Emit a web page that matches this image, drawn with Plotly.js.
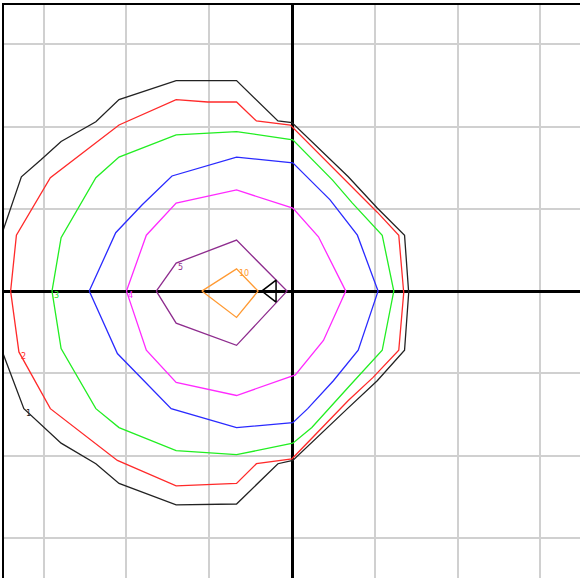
<!DOCTYPE html>
<html>
<head>
<meta charset="utf-8">
<script src="https://cdn.plot.ly/plotly-3.0.1.min.js"></script>
<style>html,body{margin:0;padding:0;background:#fff;}#chart{width:580px;height:578px;}</style>
</head>
<body>
<div id="chart"></div>
<script>
// Contour levels and their vertex coordinates
const levels = ["1", "2", "3", "", "4", "5", "10"];

const c1x = [-3.50,-3.27,-3.03,-2.79,-2.37,-2.09,-1.40,-0.67,-0.17,0.00,0.68,1.03,1.36,1.39,1.41,1.36,1.03,0.67,0.01,-0.17,-0.67,-1.40,-2.09,-2.37,-2.79,-3.24,-3.50,-3.65,-3.65,-3.50];
const c1y = [0.71,1.39,1.60,1.82,2.06,2.33,2.56,2.56,2.07,2.05,1.39,1.01,0.68,0.17,-0.02,-0.72,-1.09,-1.43,-2.06,-2.10,-2.59,-2.60,-2.34,-2.10,-1.85,-1.43,-0.74,-0.34,0.26,0.71];

const c2x = [-3.40,-3.33,-2.92,-2.60,-2.09,-1.40,-1.02,-0.67,-0.43,-0.02,0.70,1.03,1.29,1.34,1.35,1.29,0.98,0.68,0.00,-0.43,-0.67,-1.40,-2.11,-2.92,-3.30,-3.40];
const c2y = [0.00,0.68,1.38,1.63,2.02,2.33,2.30,2.30,2.07,2.02,1.29,0.96,0.68,0.13,-0.02,-0.72,-1.05,-1.33,-2.04,-2.10,-2.34,-2.37,-2.06,-1.43,-0.74,0.00];

const c3x = [-2.90,-2.79,-2.37,-2.09,-1.40,-0.67,0.01,0.49,0.73,1.09,1.23,1.09,0.68,0.24,0.01,-0.67,-1.40,-2.09,-2.37,-2.79,-2.90];
const c3y = [0.00,0.65,1.38,1.63,1.90,1.94,1.84,1.35,1.07,0.68,0.00,-0.72,-1.17,-1.66,-1.85,-1.99,-1.94,-1.66,-1.43,-0.70,0.00];

const c4x = [-2.45,-2.13,-1.81,-1.45,-0.67,0.01,0.22,0.46,0.79,1.04,0.80,0.50,0.19,0.01,-0.67,-1.46,-2.11,-2.45];
const c4y = [0.00,0.71,1.05,1.40,1.63,1.56,1.35,1.11,0.68,0.00,-0.72,-1.09,-1.43,-1.60,-1.66,-1.43,-0.76,0.00];

const c5x = [-2.00,-1.76,-1.40,-0.67,0.01,0.32,0.65,0.38,0.04,-0.67,-1.40,-1.76,-2.00];
const c5y = [0.00,0.68,1.07,1.23,1.01,0.66,0.00,-0.60,-1.02,-1.27,-1.11,-0.72,0.00];

const c6x = [-1.64,-1.40,-0.67,-0.06,-0.67,-1.40,-1.64];
const c6y = [0.00,0.34,0.62,0.00,-0.66,-0.39,0.00];

const c7x = [-1.09,-0.67,-0.41,-0.67,-1.09];
const c7y = [0.00,0.27,0.00,-0.32,0.00];

// Marker point
const ptX = [-0.25];
const ptY = [0.0];

const contoursX = [c1x, c2x, c3x, c4x, c5x, c6x, c7x];
const contoursY = [c1y, c2y, c3y, c4y, c5y, c6y, c7y];
const colors = ["#222222", "#ff2a2a", "#22ee22", "#2a2aff", "#ff2aff", "#8e2c8e", "#ff9a33"];
const labelIdx = [25, 24, 0, -1, 0, 1, 1];

const traces = contoursX.map((xs, i) => ({
  type: "scatter", mode: "lines", x: xs, y: contoursY[i],
  line: {color: colors[i], width: 1.3}, hoverinfo: "skip", showlegend: false
}));
traces.push({
  type: "scatter", mode: "markers", x: ptX, y: ptY,
  marker: {symbol: "triangle-left-open", size: 19, color: "#000", line: {width: 1.5, color: "#000"}},
  showlegend: false, hoverinfo: "skip"
});

const annotations = [];
levels.forEach((lv, i) => {
  if (!lv || labelIdx[i] < 0) return;
  annotations.push({
    x: contoursX[i][labelIdx[i]], y: contoursY[i][labelIdx[i]],
    xref: "x", yref: "y", text: lv, showarrow: false,
    font: {family: "DejaVu Sans", size: 8, color: colors[i]},
    xanchor: "left", yanchor: "top", xshift: 0, yshift: 2
  });
});

const axisBase = {
  dtick: 1, tick0: 0,
  showgrid: true, gridcolor: "#d0d0d0", gridwidth: 2,
  zeroline: true, zerolinecolor: "#000", zerolinewidth: 3,
  showline: true, mirror: false, linecolor: "#000", linewidth: 2,
  showticklabels: false, ticks: "", fixedrange: true
};

Plotly.newPlot("chart", traces, {
  width: 580, height: 578,
  margin: {l: 4, r: 0, t: 5, b: 0},
  paper_bgcolor: "#fff", plot_bgcolor: "#fff",
  xaxis: Object.assign({}, axisBase, {range: [-3.48, 3.48], side: "top"}),
  yaxis: Object.assign({}, axisBase, {range: [-3.49, 3.48], side: "left"}),
  annotations: annotations,
  showlegend: false
}, {displayModeBar: false, staticPlot: true});
</script>
</body>
</html>
